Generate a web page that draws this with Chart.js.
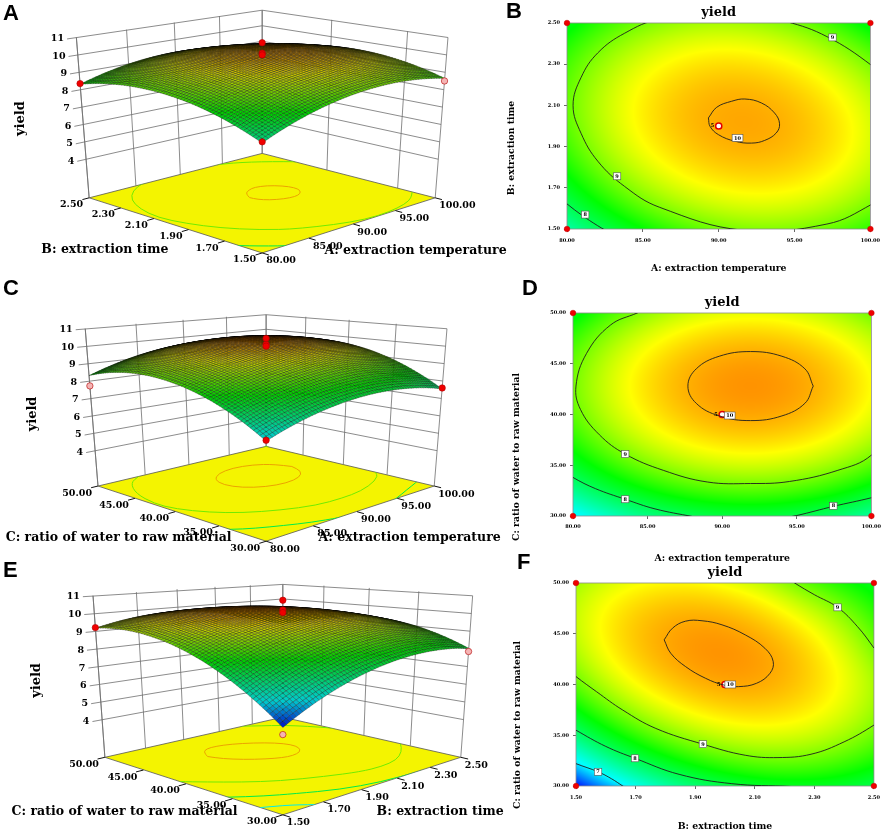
<!DOCTYPE html>
<html>
<head>
<meta charset="utf-8">
<title>yield response surfaces</title>
<script src="https://cdn.jsdelivr.net/npm/chart.js@4.4.1/dist/chart.umd.min.js"></script>
<style>
  body { margin: 0; background: #fff; }
  #page { position: relative; width: 886px; height: 832px; overflow: hidden; background: #fff; }
  #page canvas { position: absolute; }
  .tag { position: absolute; font: bold 22px "Liberation Sans", Arial, sans-serif; line-height: 1; color: #000; }
</style>
</head>
<body>
<div id="page">
  <canvas id="cA" width="545" height="272" style="left:0;top:0"></canvas>
  <canvas id="cC" width="545" height="285" style="left:0;top:270px"></canvas>
  <canvas id="cE" width="545" height="277" style="left:0;top:555px"></canvas>
  <canvas id="cB" width="406" height="275" style="left:480px;top:0"></canvas>
  <canvas id="cD" width="406" height="290" style="left:480px;top:275px"></canvas>
  <canvas id="cF" width="406" height="270" style="left:480px;top:562px"></canvas>
  <div class="tag" style="left:3px;top:2px">A</div>
  <div class="tag" style="left:506px;top:0">B</div>
  <div class="tag" style="left:3px;top:277px">C</div>
  <div class="tag" style="left:522px;top:277px">D</div>
  <div class="tag" style="left:3px;top:559px">E</div>
  <div class="tag" style="left:517px;top:551px">F</div>
</div>
<script>
const SERIF = '"DejaVu Serif", "Liberation Serif", serif';
Chart.defaults.font.family = SERIF;
Chart.defaults.color = '#000';

// factor levels = axis ticks
const tempLevels = [80, 85, 90, 95, 100];
const timeLevels = [1.5, 1.7, 1.9, 2.1, 2.3, 2.5];
const ratioLevels = [30, 35, 40, 45, 50];
const yieldTicks = [4, 5, 6, 7, 8, 9, 10, 11];
const timeWallA = [1.5, 1.7, 2.1, 2.5]; // grid lines on the back wall of A

// predicted yield at the factor levels
// rows: time 1.5 -> 2.5, cols: temperature 80 -> 100
const yieldTempTime = [
  [7.49, 8.44, 8.95, 9.02, 8.65],
  [8.26, 9.16, 9.61, 9.62, 9.19],
  [8.73, 9.57, 9.96, 9.92, 9.43],
  [8.89, 9.67, 10.01, 9.91, 9.37],
  [8.75, 9.47, 9.76, 9.60, 9.00],
  [8.31, 8.97, 9.20, 8.98, 8.32],
];
// rows: ratio 30 -> 50, cols: temperature 80 -> 100
const yieldTempRatio = [
  [6.91, 7.70, 8.07, 8.02, 7.55],
  [8.20, 8.99, 9.36, 9.31, 8.84],
  [8.86, 9.65, 10.02, 9.97, 9.50],
  [8.90, 9.69, 10.06, 10.01, 9.54],
  [8.31, 9.10, 9.47, 9.42, 8.95],
];
// rows: ratio 30 -> 50, cols: time 1.5 -> 2.5
const yieldTimeRatio = [
  [6.06, 7.10, 7.81, 8.20, 8.27, 8.03],
  [7.78, 8.65, 9.20, 9.43, 9.34, 8.93],
  [8.87, 9.58, 9.96, 10.03, 9.78, 9.21],
  [9.33, 9.88, 10.10, 10.01, 9.60, 8.86],
  [9.17, 9.55, 9.62, 9.36, 8.79, 8.30],
];

// contour lines
const contourTT10 = [[89.32,2.039],[89.87,2.091],[90.85,2.12],[91.72,2.131],[92.81,2.112],[93.68,2.063],[94.01,2.011],[93.79,1.966],[93.03,1.93],[92.16,1.917],[91.07,1.926],[89.98,1.958],[89.43,1.998],[89.32,2.039]];
const contourTT9 = [[102.65,1.937],[101.17,1.685],[100.06,1.619],[97.13,1.524],[91.6,1.494],[86.08,1.606],[83.79,1.707],[82.03,1.829],[80.93,1.964],[80.4,2.1],[80.93,2.236],[82.03,2.355],[83.79,2.45],[86.08,2.517],[91.6,2.546],[94.46,2.507],[97.13,2.434],[100.06,2.295],[101.17,2.211],[102.65,1.937]];
const contourTT8 = [[79.5,1.655],[80,1.622],[81,1.566],[82,1.517],[83,1.474]];
const labelsTT = [[81.2,1.57,'8'],[83.3,1.756,'9'],[97.5,2.43,'9'],[91.24,1.942,'10']];

const contourTR10 = [[96.1,42.8],[95.54,44.5],[94.0,45.74],[91.9,46.2],[89.8,45.74],[88.26,44.5],[87.7,42.8],[88.26,41.1],[89.8,39.86],[91.9,39.4],[94.0,39.86],[95.54,41.1],[96.1,42.8]];
const contourTR9 = [[102.8,45.5],[102.6,40.5],[100.0,36.0],[97.75,34.5],[94.5,33.4],[91.9,33.2],[89.0,33.35],[86.05,34.5],[83.5,36.1],[81.77,38.0],[80.5,40.5],[80.2,42.8],[80.9,46.0],[82.5,48.8],[84.3,50.0],[86.05,51.1],[91.9,52.4],[97.9,51.4],[101.2,49.2],[102.8,45.5]];
const contourTR8a = [[79.5,34.4],[80,33.8],[81.5,32.7],[83.5,31.65],[85.5,30.7],[88,29.95],[89,29.7]];
const contourTR8b = [[94,29.8],[95,30.05],[97.45,30.95],[100,31.8],[100.6,32.1]];
const labelsTR = [[83.5,31.65,'8'],[83.5,36.1,'9'],[90.5,39.9,'10'],[97.45,31.0,'8']];

const contourBR10 = [[1.796,44.40],[1.824,45.55],[1.868,46.24],[1.923,46.28],[1.990,45.88],[2.068,44.89],[2.134,43.57],[2.162,42.26],[2.151,41.10],[2.106,40.12],[2.045,39.79],[1.996,39.95],[1.935,40.61],[1.868,41.76],[1.818,43.08],[1.796,44.40]];
const contourBR9a = [[1.45,42.0],[1.5,40.78],[1.569,39.29],[1.657,37.48],[1.768,35.67],[1.926,34.12],[2.068,33.03],[2.178,32.8],[2.289,33.13],[2.40,34.35],[2.5,36.0],[2.56,37.3]];
const contourBR9b = [[2.19,50.9],[2.234,50],[2.30,48.85],[2.378,47.6],[2.445,45.7],[2.5,43.6],[2.53,42.3]];
const contourBR8 = [[1.45,36.4],[1.5,35.5],[1.6,33.9],[1.698,32.73],[1.846,31.15],[2.023,30.23],[2.223,29.95],[2.3,29.85]];
const contourBR7 = [[1.45,32.8],[1.5,32.2],[1.574,31.4],[1.62,30.7],[1.657,30.0],[1.68,29.6]];
const labelsBR = [[1.574,31.4,'7'],[1.698,32.73,'8'],[1.926,34.12,'9'],[2.378,47.6,'9'],[2.018,40.0,'10']];

// design points visible in the 3D plots
const designTT_temp = [80, 80, 100, 90, 90, 90];
const designTT_time = [1.5, 2.5, 1.5, 2, 2, 2];
const designTT_yield = [7.55, 8.35, 8.5, 10.7, 10.1, 10.0];
const designTR_temp = [80, 80, 100, 90, 90, 90];
const designTR_ratio = [30, 50, 30, 40, 40, 40];
const designTR_yield = [6.95, 7.72, 7.6, 10.45, 10.1, 10.0];
const designBR_time = [1.5, 1.5, 2.5, 2, 2, 2];
const designBR_ratio = [30, 50, 30, 40, 40, 40];
const designBR_yield = [5.72, 9.2, 7.85, 10.75, 10.2, 10.05];
const centerRuns = '5';

// ---------- helpers ----------
function makeField(xs, ys, grid) {
  const nx = xs.length, ny = ys.length;
  const get = (i, j) => {
    if (j < 0) return 3 * get(i, 0) - 3 * get(i, 1) + get(i, 2);
    if (j >= ny) return 3 * get(i, ny - 1) - 3 * get(i, ny - 2) + get(i, ny - 3);
    if (i < 0) return 3 * get(0, j) - 3 * get(1, j) + get(2, j);
    if (i >= nx) return 3 * get(nx - 1, j) - 3 * get(nx - 2, j) + get(nx - 3, j);
    return grid[j][i];
  };
  const cr = (p0, p1, p2, p3, t) => p1 + 0.5 * t * (p2 - p0 + t * (2 * p0 - 5 * p1 + 4 * p2 - p3 + t * (3 * (p1 - p2) + p3 - p0)));
  return (x, y) => {
    const fx = (x - xs[0]) / (xs[1] - xs[0]), fy = (y - ys[0]) / (ys[1] - ys[0]);
    const i = Math.min(Math.max(Math.floor(fx), 0), nx - 2);
    const j = Math.min(Math.max(Math.floor(fy), 0), ny - 2);
    const tx = fx - i, ty = fy - j;
    const r = [-1, 0, 1, 2].map(d => cr(get(i - 1, j + d), get(i, j + d), get(i + 1, j + d), get(i + 2, j + d), tx));
    return cr(r[0], r[1], r[2], r[3], ty);
  };
}

const STOPS = [[6.0, [0, 0, 255]], [7.0, [0, 255, 255]], [8.45, [0, 255, 0]], [9.6, [255, 255, 0]], [10.9, [255, 0, 0]]];
function rgbFor(z) {
  if (z <= STOPS[0][0]) return STOPS[0][1];
  for (let i = 1; i < STOPS.length; i++) {
    if (z <= STOPS[i][0]) {
      const [z0, c0] = STOPS[i - 1], [z1, c1] = STOPS[i];
      const t = (z - z0) / (z1 - z0);
      return c0.map((c, k) => Math.round(c + (c1[k] - c) * t));
    }
  }
  return STOPS[STOPS.length - 1][1];
}
const rgbStr = (z, f = 1) => { const c = rgbFor(z).map(v => Math.round(v * f)); return `rgb(${c[0]},${c[1]},${c[2]})`; };

const norm = (lv, x) => (x - lv[0]) / (lv[lv.length - 1] - lv[0]);
const lerpLv = (lv, t) => lv[0] + t * (lv[lv.length - 1] - lv[0]);

// perspective-ish projection of the 3D box (u, v in 0..1, z = yield)
function project(V, u, v, z) {
  const d = (u + v) / 2;
  const k = V.kf + (V.kb - V.kf) * d;
  const dz = z - V.zf;
  return [V.cx + k * (1 + V.lam * dz) * (u - v) * V.w,
          V.cy + k * (1 - u - v) * V.h - k * dz * V.s];
}

function smoothPath(ctx, q) {
  ctx.beginPath();
  ctx.moveTo(q[0][0], q[0][1]);
  for (let i = 1; i < q.length - 1; i++) {
    ctx.quadraticCurveTo(q[i][0], q[i][1], (q[i][0] + q[i + 1][0]) / 2, (q[i][1] + q[i + 1][1]) / 2);
  }
  const l = q[q.length - 1];
  ctx.lineTo(l[0], l[1]);
}

// ---------- 3D panels ----------
const surfaces = {
  cA: {
    view: { cx: 262, cy: 200, w: 176, h: 51.5, kf: 1.107, kb: 0.893, s: 18, zf: 1.78, lam: 0.008, zTop: 11 },
    uLevels: tempLevels, vLevels: timeLevels, grid: yieldTempTime,
    uWall: tempLevels, vWall: timeWallA,
    contours: [[10, contourTT10], [9, contourTT9], [8, contourTT8]],
    du: designTT_temp, dv: designTT_time, dy: designTT_yield,
    leftTitle: ['B: extraction time', 102, 254], rightTitle: ['A: extraction temperature', 418, 255], zTitle: [16, 118]
  },
  cC: {
    view: { cx: 266, cy: 218.5, w: 171, h: 49, kf: 1.163, kb: 0.837, s: 18, zf: 1.97, lam: 0.0084, zTop: 11 },
    uLevels: tempLevels, vLevels: ratioLevels, grid: yieldTempRatio,
    uWall: tempLevels, vWall: ratioLevels,
    contours: [[10, contourTR10], [9, contourTR9], [8, contourTR8a], [8, contourTR8b]],
    du: designTR_temp, dv: designTR_ratio, dy: designTR_yield,
    leftTitle: ['C: ratio of water to raw material', 116, 272], rightTitle: ['A: extraction temperature', 412, 272], zTitle: [29, 144]
  },
  cE: {
    view: { cx: 283, cy: 204.5, w: 181, h: 50.5, kf: 1.178, kb: 0.822, s: 18.3, zf: 1.87, lam: 0.0073, zTop: 11 },
    uLevels: timeLevels, vLevels: ratioLevels, grid: yieldTimeRatio,
    uWall: timeLevels, vWall: ratioLevels,
    contours: [[10, contourBR10], [9, contourBR9a], [9, contourBR9b], [8, contourBR8], [7, contourBR7]],
    du: designBR_time, dv: designBR_ratio, dy: designBR_yield,
    leftTitle: ['C: ratio of water to raw material', 122, 261], rightTitle: ['B: extraction time', 443, 261], zTitle: [33, 125]
  }
};

function boxTools(chart) {
  const s = surfaces[chart.canvas.id];
  const P = (u, v, z) => {
    const p = project(s.view, u, v, z);
    return [chart.scales.x.getPixelForValue(p[0]), chart.scales.y.getPixelForValue(p[1])];
  };
  return { s, V: s.view, P, nu: x => norm(s.uLevels, x), nv: y => norm(s.vLevels, y) };
}

const surfacePlugin = {
  id: 'surface3d',
  beforeDatasetsDraw(chart) {
    const { s, V, P, nu, nv } = boxTools(chart);
    const ctx = chart.ctx;
    const seg = (a, b) => { ctx.moveTo(a[0], a[1]); ctx.lineTo(b[0], b[1]); };
    ctx.save();
    // back walls
    ctx.beginPath();
    s.uWall.forEach(t => seg(P(nu(t), 1, V.zf), P(nu(t), 1, V.zTop)));
    s.vWall.forEach(t => seg(P(1, nv(t), V.zf), P(1, nv(t), V.zTop)));
    yieldTicks.forEach(z => { seg(P(-0.045, 1, z), P(1, 1, z)); seg(P(1, 1, z), P(1, 0, z)); });
    seg(P(0, 1, V.zf), P(0, 1, V.zTop));
    ctx.strokeStyle = '#6e6e6e';
    ctx.lineWidth = 0.8;
    ctx.stroke();
    // floor with projected contours
    const fl = [P(0, 0, V.zf), P(1, 0, V.zf), P(1, 1, V.zf), P(0, 1, V.zf)];
    ctx.beginPath();
    ctx.moveTo(fl[0][0], fl[0][1]);
    fl.slice(1).forEach(p => ctx.lineTo(p[0], p[1]));
    ctx.closePath();
    ctx.fillStyle = '#f4f400';
    ctx.fill();
    ctx.strokeStyle = '#555';
    ctx.stroke();
    ctx.save();
    ctx.clip();
    s.contours.forEach(([lev, line]) => {
      smoothPath(ctx, line.map(p => P(nu(p[0]), nv(p[1]), V.zf)));
      ctx.strokeStyle = rgbStr(lev, 0.92);
      ctx.lineWidth = 1;
      ctx.stroke();
    });
    ctx.restore();
    // surface mesh, painted back to front
    const N = 64, mesh = [];
    for (let i = 0; i <= N; i++) {
      mesh.push([]);
      for (let j = 0; j <= N; j++) {
        const u = i / N, v = j / N;
        const z = s.field(lerpLv(s.uLevels, u), lerpLv(s.vLevels, v));
        mesh[i].push({ p: P(u, v, z), z });
      }
    }
    const quads = [];
    for (let i = 0; i < N; i++) for (let j = 0; j < N; j++) quads.push([i, j]);
    quads.sort((a, b) => (b[0] + b[1]) - (a[0] + a[1]));
    ctx.lineWidth = 0.5;
    ctx.strokeStyle = 'rgba(0,0,0,0.55)';
    quads.forEach(([i, j]) => {
      const a = mesh[i][j], b = mesh[i + 1][j], c = mesh[i + 1][j + 1], d = mesh[i][j + 1];
      ctx.beginPath();
      ctx.moveTo(a.p[0], a.p[1]);
      ctx.lineTo(b.p[0], b.p[1]);
      ctx.lineTo(c.p[0], c.p[1]);
      ctx.lineTo(d.p[0], d.p[1]);
      ctx.closePath();
      ctx.fillStyle = rgbStr((a.z + b.z + c.z + d.z) / 4, 0.8);
      ctx.fill();
      ctx.stroke();
    });
    ctx.restore();
  },
  afterDatasetsDraw(chart) {
    const { s, V, P, nu, nv } = boxTools(chart);
    const ctx = chart.ctx;
    const X = v => chart.scales.x.getPixelForValue(v), Y = v => chart.scales.y.getPixelForValue(v);
    ctx.save();
    ctx.fillStyle = '#000';
    ctx.strokeStyle = '#111';
    ctx.lineWidth = 1;
    ctx.font = `bold 9.5px ${SERIF}`;
    ctx.textBaseline = 'middle';
    ctx.textAlign = 'right';
    yieldTicks.forEach(z => { const p = P(-0.045, 1, z); ctx.fillText(String(z), p[0] - 3, p[1]); });
    ctx.beginPath();
    s.vLevels.forEach(t => { const a = P(0, nv(t), V.zf), b = P(-0.035, nv(t), V.zf); ctx.moveTo(a[0], a[1]); ctx.lineTo(b[0], b[1]); });
    s.uLevels.forEach(t => { const a = P(nu(t), 0, V.zf), b = P(nu(t), -0.035, V.zf); ctx.moveTo(a[0], a[1]); ctx.lineTo(b[0], b[1]); });
    ctx.stroke();
    s.vLevels.forEach(t => { const a = P(0, nv(t), V.zf); ctx.fillText(t.toFixed(2), a[0] - 6, a[1] + 7); });
    ctx.textAlign = 'left';
    s.uLevels.forEach(t => { const a = P(nu(t), 0, V.zf); ctx.fillText(t.toFixed(2), a[0] + 4, a[1] + 8); });
    ctx.font = `bold 12.5px ${SERIF}`;
    ctx.textAlign = 'center';
    ctx.fillText(s.leftTitle[0], X(s.leftTitle[1]), Y(s.leftTitle[2]));
    ctx.fillText(s.rightTitle[0], X(s.rightTitle[1]), Y(s.rightTitle[2]));
    ctx.translate(X(s.zTitle[0]), Y(s.zTitle[1]));
    ctx.rotate(-Math.PI / 2);
    ctx.font = `bold 13px ${SERIF}`;
    ctx.fillText('yield', 0, 0);
    ctx.restore();
  }
};

function build3d(id) {
  const s = surfaces[id];
  s.field = makeField(s.uLevels, s.vLevels, s.grid);
  const cv = document.getElementById(id);
  const pts = s.du.map((u, i) => {
    const p = project(s.view, norm(s.uLevels, u), norm(s.vLevels, s.dv[i]), s.dy[i]);
    return { x: p[0], y: p[1] };
  });
  const cols = s.du.map((u, i) => s.dy[i] >= s.field(u, s.dv[i]) - 0.05 ? '#f00000' : '#f5b4b4');
  new Chart(cv, {
    type: 'scatter',
    data: { datasets: [{ data: pts, pointRadius: 3.2, pointBackgroundColor: cols, pointBorderColor: '#b00000', pointBorderWidth: 0.6, clip: false }] },
    options: {
      responsive: false, animation: false, events: [],
      layout: { padding: 0 },
      plugins: { legend: { display: false }, tooltip: { enabled: false } },
      scales: {
        x: { type: 'linear', display: false, min: 0, max: cv.width },
        y: { type: 'linear', display: false, min: 0, max: cv.height, reverse: true }
      }
    },
    plugins: [surfacePlugin]
  });
}

// ---------- contour panels ----------
const contourPanels = {
  cB: { xLv: tempLevels, yLv: timeLevels, grid: yieldTempTime, lines: [contourTT10, contourTT9, contourTT8], labels: labelsTT,
        xTitle: 'A: extraction temperature', yTitle: ['B: extraction time', 32, 148],
        padTop: 4.9, padRight: 13, yWidth: 87, xHeight: 46, tickPad: 6, titlePad: 1.3 },
  cD: { xLv: tempLevels, yLv: ratioLevels, grid: yieldTempRatio, lines: [contourTR10, contourTR9, contourTR8a, contourTR8b], labels: labelsTR,
        xTitle: 'A: extraction temperature', yTitle: ['C: ratio of water to raw material', 37, 182],
        padTop: 19.9, padRight: 13, yWidth: 93, xHeight: 49, tickPad: 5, titlePad: 1.3 },
  cF: { xLv: timeLevels, yLv: ratioLevels, grid: yieldTimeRatio, lines: [contourBR10, contourBR9a, contourBR9b, contourBR8, contourBR7], labels: labelsBR,
        xTitle: 'B: extraction time', yTitle: ['C: ratio of water to raw material', 38, 163],
        padTop: 2.9, padRight: 9, yWidth: 96, xHeight: 46, tickPad: 6, titlePad: 0.3 }
};

const contourPlugin = {
  id: 'contourField',
  beforeDatasetsDraw(chart) {
    const c = contourPanels[chart.canvas.id];
    const { left, top, width, height } = chart.chartArea;
    const w = Math.round(width), h = Math.round(height);
    const off = document.createElement('canvas');
    off.width = w; off.height = h;
    const octx = off.getContext('2d');
    const img = octx.createImageData(w, h);
    const xs = chart.scales.x, ys = chart.scales.y;
    for (let j = 0; j < h; j++) {
      const yv = ys.getValueForPixel(top + (j + 0.5) * height / h);
      for (let i = 0; i < w; i++) {
        const xv = xs.getValueForPixel(left + (i + 0.5) * width / w);
        const col = rgbFor(c.field(xv, yv));
        const k = (j * w + i) * 4;
        img.data[k] = col[0]; img.data[k + 1] = col[1]; img.data[k + 2] = col[2]; img.data[k + 3] = 255;
      }
    }
    octx.putImageData(img, 0, 0);
    const ctx = chart.ctx;
    ctx.save();
    ctx.drawImage(off, left, top, width, height);
    ctx.strokeStyle = '#8c8c8c';
    ctx.lineWidth = 0.8;
    ctx.strokeRect(left, top, width, height);
    ctx.restore();
  },
  afterDatasetsDraw(chart) {
    const c = contourPanels[chart.canvas.id];
    const ctx = chart.ctx;
    const xs = chart.scales.x, ys = chart.scales.y;
    ctx.save();
    ctx.font = `bold 5px ${SERIF}`;
    ctx.textAlign = 'center';
    ctx.textBaseline = 'middle';
    c.labels.forEach(([x, y, t]) => {
      const px = xs.getPixelForValue(x), py = ys.getPixelForValue(y);
      const bw = 4 + 3.4 * t.length, bh = 7;
      ctx.fillStyle = '#fff';
      ctx.fillRect(px - bw / 2, py - bh / 2, bw, bh);
      ctx.strokeStyle = '#555';
      ctx.lineWidth = 0.6;
      ctx.strokeRect(px - bw / 2, py - bh / 2, bw, bh);
      ctx.fillStyle = '#000';
      ctx.fillText(t, px, py + 0.3);
    });
    const cx = xs.getPixelForValue((c.xLv[0] + c.xLv[c.xLv.length - 1]) / 2);
    const cy = ys.getPixelForValue((c.yLv[0] + c.yLv[c.yLv.length - 1]) / 2);
    ctx.textAlign = 'right';
    ctx.fillText(centerRuns, cx - 4.5, cy);
    ctx.translate(c.yTitle[1], c.yTitle[2]);
    ctx.rotate(-Math.PI / 2);
    ctx.textAlign = 'center';
    ctx.font = `bold 9.3px ${SERIF}`;
    ctx.fillText(c.yTitle[0], 0, 0);
    ctx.restore();
  }
};

function axisOpts(levels, fit, tickPad, title) {
  return {
    type: 'linear', min: levels[0], max: levels[levels.length - 1],
    afterBuildTicks: sc => { sc.ticks = levels.map(v => ({ value: v })); },
    afterFit: fit,
    ticks: { callback: v => Number(v).toFixed(2), font: { family: SERIF, size: 5, weight: 'bold' }, color: '#000', autoSkip: false, maxRotation: 0, padding: tickPad },
    grid: { drawOnChartArea: false, tickLength: 3, color: '#000', lineWidth: 0.6 },
    border: { display: false },
    title: title
  };
}

function buildContour(id) {
  const c = contourPanels[id];
  c.field = makeField(c.xLv, c.yLv, c.grid);
  const x0 = c.xLv[0], x1 = c.xLv[c.xLv.length - 1], y0 = c.yLv[0], y1 = c.yLv[c.yLv.length - 1];
  const lineSet = pts => ({
    type: 'line', data: pts.map(p => ({ x: p[0], y: p[1] })),
    borderColor: '#1e1e1e', borderWidth: 0.9, pointRadius: 0, tension: 0.4, fill: false, capBezierPoints: false
  });
  new Chart(document.getElementById(id), {
    type: 'scatter',
    data: {
      datasets: [
        ...c.lines.map(lineSet),
        { type: 'scatter', data: [{ x: x0, y: y0 }, { x: x0, y: y1 }, { x: x1, y: y0 }, { x: x1, y: y1 }],
          pointRadius: 2.8, pointBackgroundColor: '#f00000', pointBorderColor: '#c00000', pointBorderWidth: 0.5, clip: false },
        { type: 'scatter', data: [{ x: (x0 + x1) / 2, y: (y0 + y1) / 2 }],
          pointRadius: 3.1, pointBackgroundColor: '#fff', pointBorderColor: '#e00000', pointBorderWidth: 1.5, clip: false }
      ]
    },
    options: {
      responsive: false, animation: false, events: [],
      layout: { padding: { top: c.padTop, right: c.padRight, left: 0, bottom: 0 } },
      plugins: {
        legend: { display: false }, tooltip: { enabled: false },
        title: { display: true, fullSize: false, text: 'yield', color: '#000', font: { family: SERIF, size: 13, weight: 'bold' }, padding: { top: 0, bottom: 2.5 } }
      },
      scales: {
        x: axisOpts(c.xLv, sc => { sc.height = c.xHeight; }, c.tickPad,
          { display: true, text: c.xTitle, color: '#000', font: { family: SERIF, size: 9.3, weight: 'bold' }, padding: { top: 0, bottom: c.titlePad } }),
        y: axisOpts(c.yLv, sc => { sc.width = c.yWidth; }, 4, { display: false })
      }
    },
    plugins: [contourPlugin]
  });
}

['cA', 'cC', 'cE'].forEach(build3d);
['cB', 'cD', 'cF'].forEach(buildContour);
</script>
</body>
</html>
